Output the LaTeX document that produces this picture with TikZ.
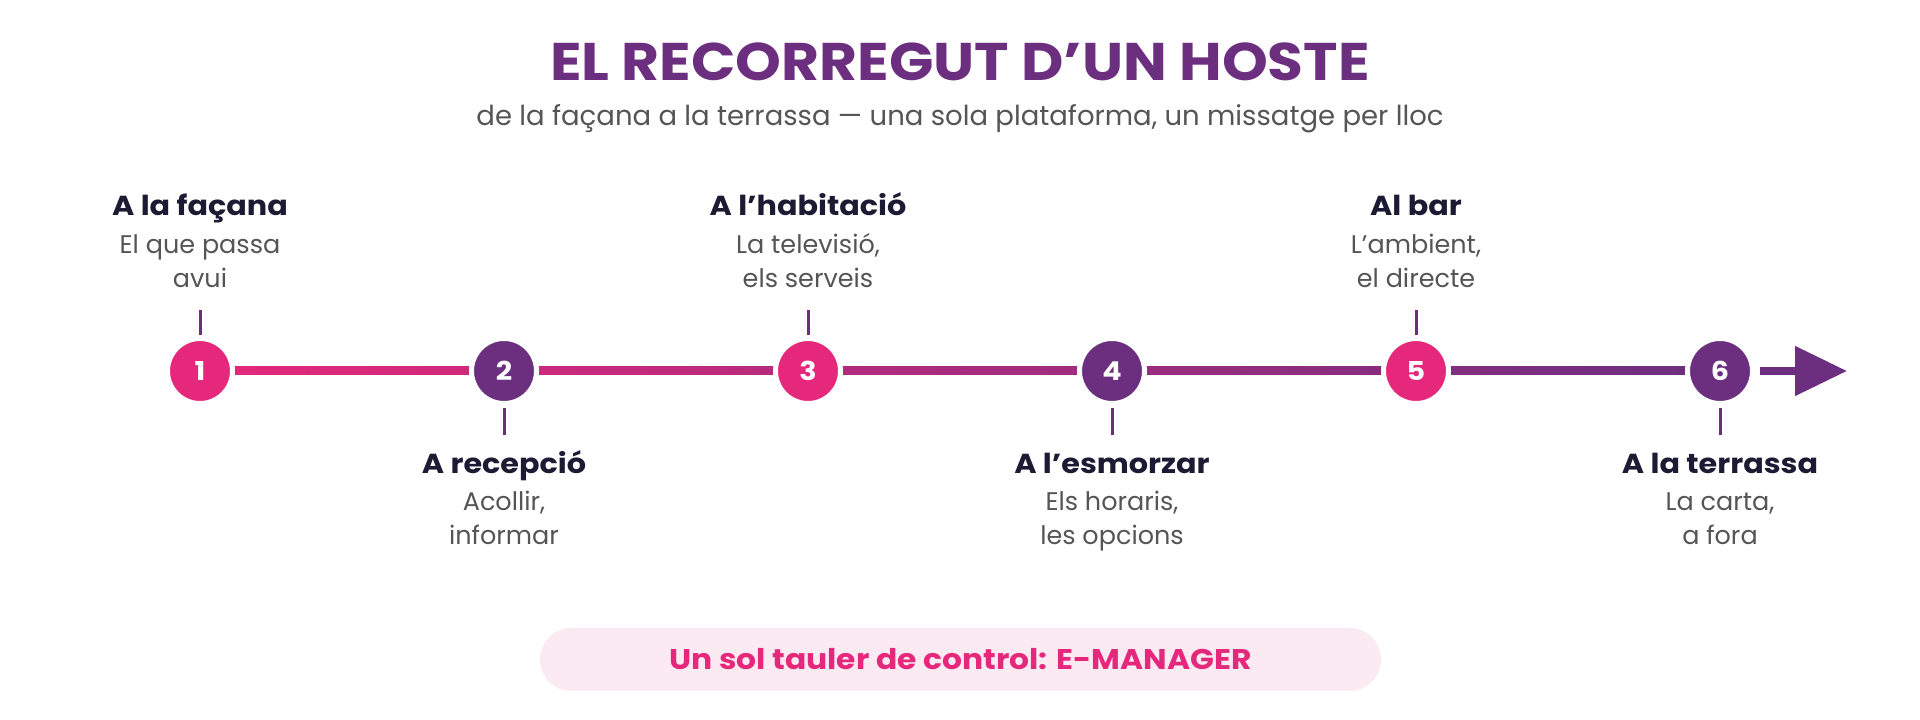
\documentclass[tikz,border=0pt]{standalone}
\usepackage{fontspec}
\setmainfont{Poppins}[BoldFeatures={FakeStretch=1.1}]
\usetikzlibrary{arrows.meta,positioning,backgrounds,calc}
\definecolor{hpink}{HTML}{E5287B}
\definecolor{hpurple}{HTML}{6C2F7F}
\definecolor{hdark}{HTML}{1D1A33}
\definecolor{hgrey}{HTML}{555555}
\definecolor{hpill}{HTML}{FCEAF2}

\def\stepsep{304}

\begin{document}
\begin{tikzpicture}[x=1pt,y=1pt]
    \tikzstyle{stop}=[circle,minimum size=65pt,inner sep=0pt,draw=white,line width=5pt,
        text=white,font=\bfseries\fontsize{26}{26}\selectfont]
    \tikzstyle{place}=[font=\bfseries\fontsize{27.5}{30}\selectfont,text=hdark,inner sep=0pt,anchor=base]
    \tikzstyle{note}=[align=center,font=\fontsize{25.5}{34}\selectfont,text=hgrey,inner sep=0pt,anchor=base]
    \tikzstyle{tick}=[draw=hpurple,line width=3pt]

    \useasboundingbox (0,0) rectangle (1920,720);

    % Title and subtitle
    \node[font=\bfseries\fontsize{53}{58}\selectfont,text=hpurple,anchor=base] (title) at (960,639) {EL RECORREGUT D’UN HOSTE};
    \node[font=\fontsize{27.5}{30}\selectfont,text=hgrey,anchor=base] (sub) at (960,594)
        {de la façana a la terrassa — una sola plataforma, un missatge per lloc};

    % The stops on the line
    \foreach \i/\col in {1/hpink,2/hpurple,3/hpink,4/hpurple,5/hpink,6/hpurple}
        \node[stop,fill=\col] (s\i) at ({200+\stepsep*(\i-1)},349) {\i};
    \coordinate (tip) at (1847,349);

    % The line itself, behind the stops
    \begin{pgfonlayer}{background}
        \shade[left color=hpink,right color=hpurple] ([yshift=-4pt]s1.center) rectangle ([yshift=4pt]s6.center);
    \end{pgfonlayer}
    \draw[hpurple,line width=8pt,shorten <=5pt,-{Triangle[length=52pt,width=48pt]}] (s6) -- (tip);

    % Places above the line
    \foreach \i/\name/\one/\two in {1/A la façana/El que passa/avui,
            3/A l’habitació/{La televisió,}/els serveis,
            5/Al bar/{L’ambient,}/el directe}
    {
        \node[place] (t\i) at ($(s\i)+(0,155.5)$) {\name};
        \node[note] (d\i) at ($(s\i)+(0,83.5)$) {\one\\\two};
        \coordinate (k\i) at ($(s\i)+(0,61)$);
        \draw[tick,shorten <=1pt] (s\i) -- (k\i);
    }

    % Places below the line
    \foreach \i/\name/\one/\two in {2/A recepció/{Acollir,}/informar,
            4/A l’esmorzar/{Els horaris,}/les opcions,
            6/A la terrassa/{La carta,}/a fora}
    {
        \node[place] (t\i) at ($(s\i)+(0,-103)$) {\name};
        \node[note] (d\i) at ($(s\i)+(0,-174)$) {\one\\\two};
        \coordinate (k\i) at ($(s\i)+(0,-64)$);
        \draw[tick,shorten <=2pt] (s\i) -- (k\i);
    }

    % Footer
    \node[fill=hpill,rounded corners=31.5pt,minimum width=841pt,minimum height=63pt,
        text=hpink,font=\bfseries\fontsize{28.5}{32}\selectfont] (pill) at (960.5,60.5)
        {Un sol tauler de control: E-MANAGER};
\end{tikzpicture}
\end{document}
